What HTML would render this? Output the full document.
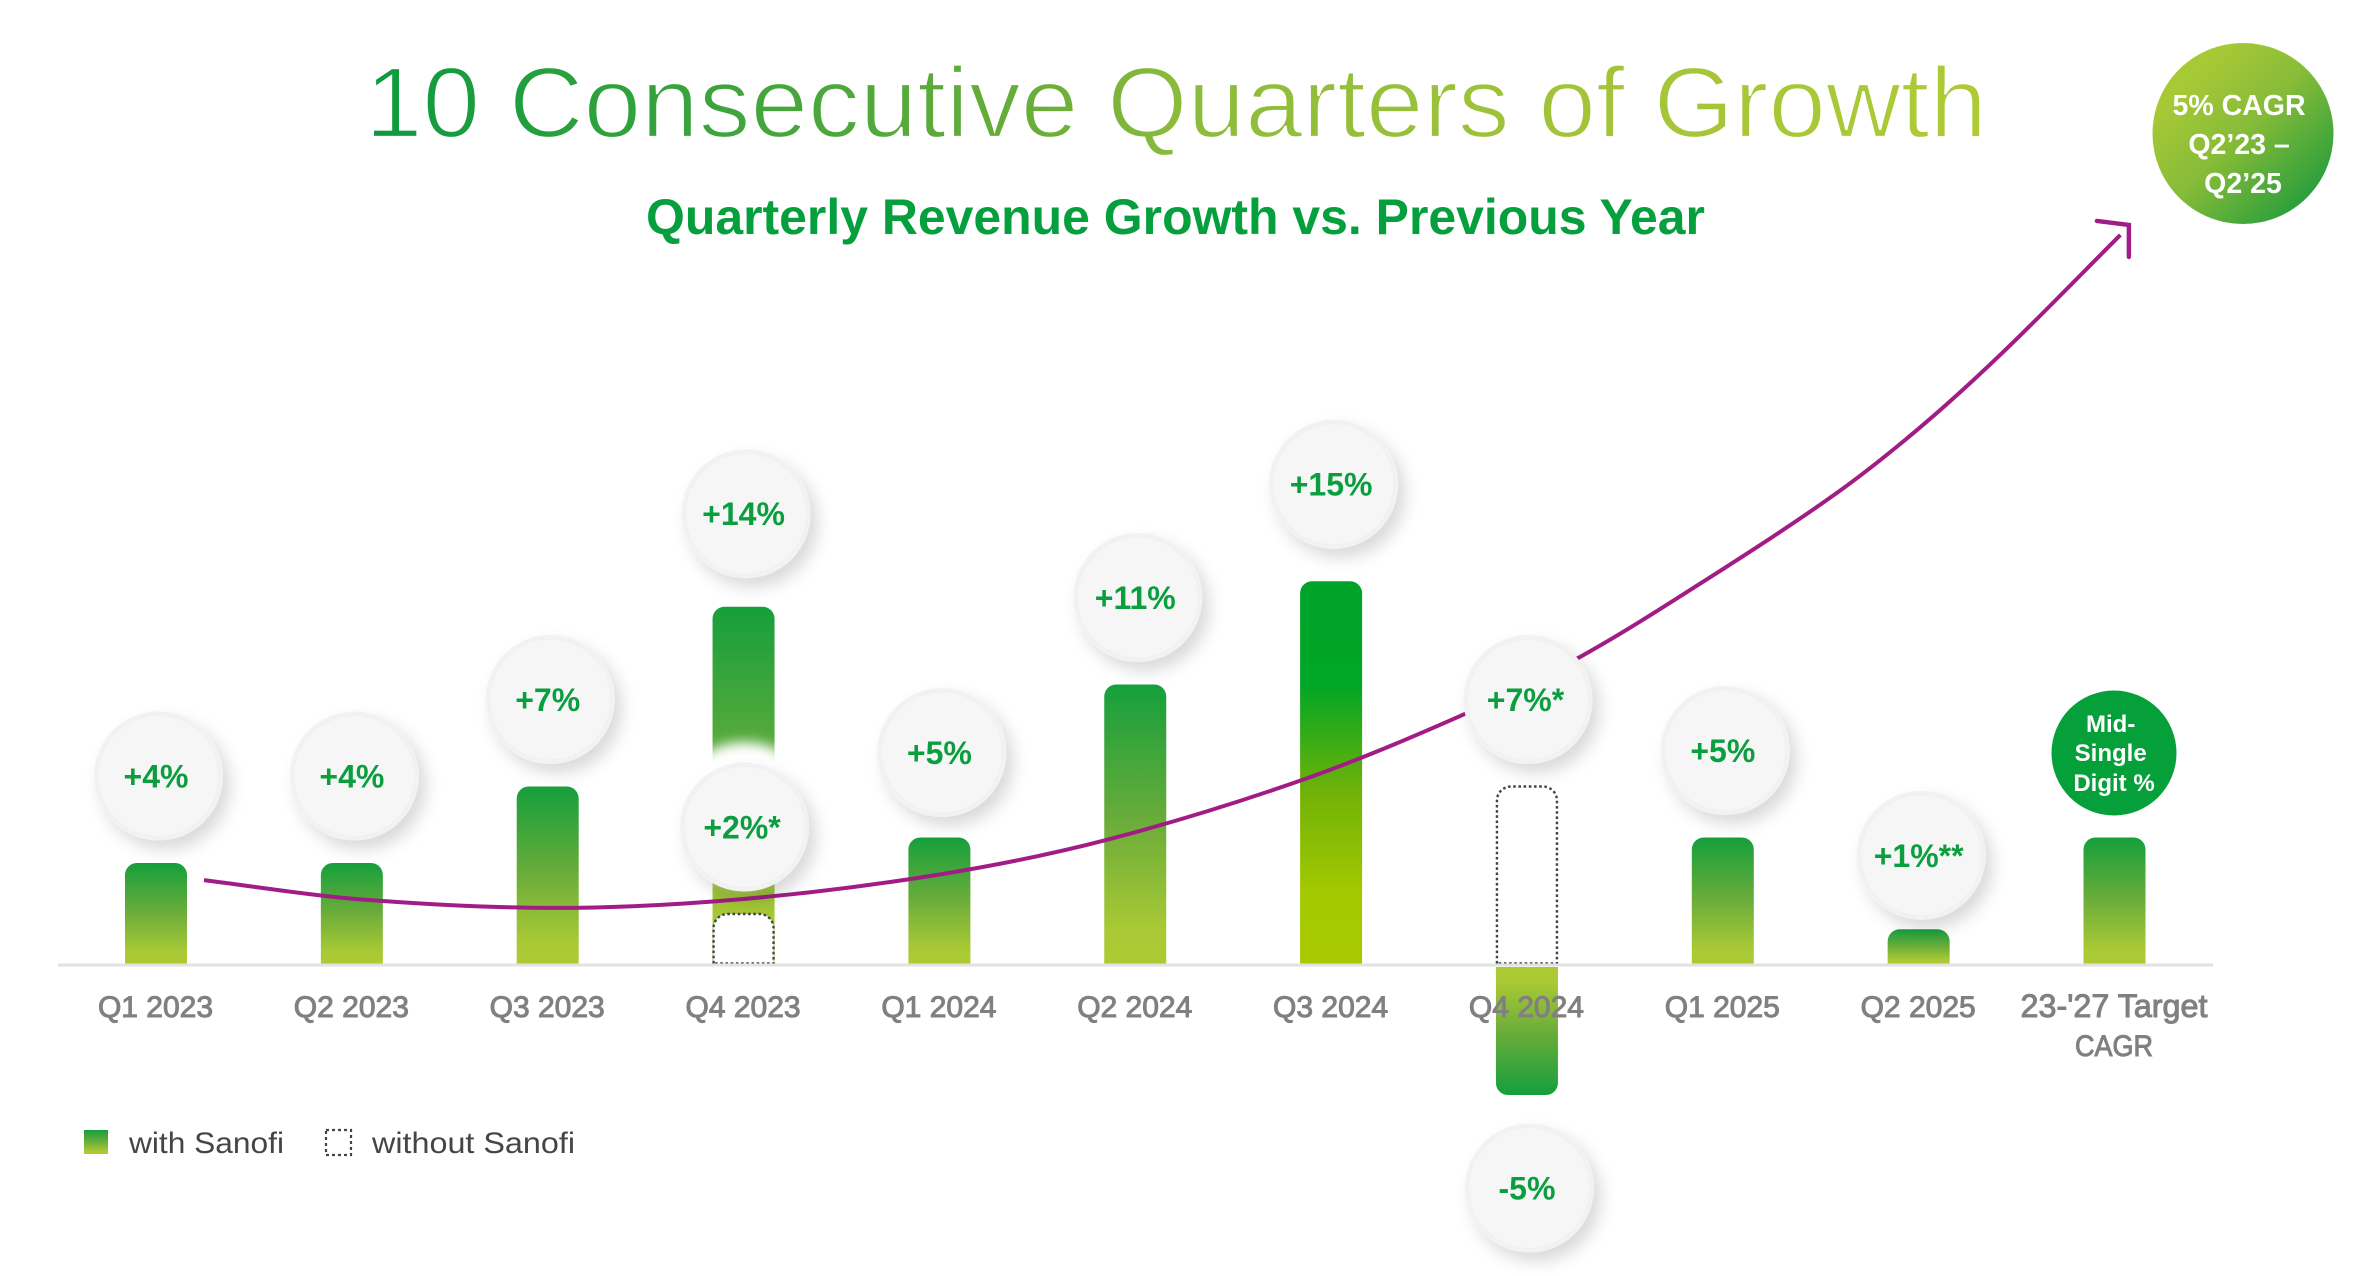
<!DOCTYPE html>
<html lang="en">
<head>
<meta charset="utf-8">
<title>10 Consecutive Quarters of Growth</title>
<style>
html,body{margin:0;padding:0;background:#fff;}
svg{display:block;font-family:"Liberation Sans",sans-serif;}
</style>
</head>
<body>
<svg id="chart" xmlns="http://www.w3.org/2000/svg" width="2356" height="1276" viewBox="0 0 2356 1276">
  <defs>
    <linearGradient id="title-gradient" gradientUnits="userSpaceOnUse" x1="365" y1="0" x2="1987" y2="0">
      <stop offset="0" stop-color="#0b9a3e"/>
      <stop offset="0.42" stop-color="#6bae3a"/>
      <stop offset="0.5" stop-color="#8bbb3b"/>
      <stop offset="0.75" stop-color="#a2c439"/>
      <stop offset="1" stop-color="#aecb34"/>
    </linearGradient>
    <linearGradient id="bar-up" x1="0" y1="0" x2="0" y2="1">
      <stop offset="0" stop-color="#159f3c"/>
      <stop offset="0.5" stop-color="#6cad3a"/>
      <stop offset="0.88" stop-color="#a9c935"/>
      <stop offset="1" stop-color="#acca34"/>
    </linearGradient>
    <linearGradient id="bar-down" x1="0" y1="1" x2="0" y2="0">
      <stop offset="0" stop-color="#159f3c"/>
      <stop offset="0.5" stop-color="#6cad3a"/>
      <stop offset="0.88" stop-color="#a9c935"/>
      <stop offset="1" stop-color="#acca34"/>
    </linearGradient>
    <linearGradient id="bar-vivid" x1="0" y1="0" x2="0" y2="1">
      <stop offset="0" stop-color="#00a32a"/>
      <stop offset="0.27" stop-color="#00a625"/>
      <stop offset="0.55" stop-color="#70b208"/>
      <stop offset="0.82" stop-color="#a4c900"/>
      <stop offset="1" stop-color="#a8c900"/>
    </linearGradient>
    <linearGradient id="cagr-gradient" x1="0.12" y1="0.12" x2="0.88" y2="0.88">
      <stop offset="0.1" stop-color="#a8c936"/>
      <stop offset="0.5" stop-color="#86bb38"/>
      <stop offset="1" stop-color="#259d3c"/>
    </linearGradient>
    <filter id="bubble-shadow" x="-30%" y="-30%" width="170%" height="170%">
      <feDropShadow dx="7" dy="9" stdDeviation="8" flood-color="#000" flood-opacity="0.15"/>
    </filter>
    <filter id="glow-blur" x="-30%" y="-30%" width="160%" height="160%">
      <feGaussianBlur stdDeviation="6"/>
    </filter>
  </defs>

  <text x="365" y="137" font-size="100" fill="url(#title-gradient)" stroke="#fff" stroke-width="2.2" textLength="1622" lengthAdjust="spacingAndGlyphs">10 Consecutive Quarters of Growth</text>
  <text x="646" y="234" font-size="50" font-weight="700" fill="#05a03d" textLength="1059" lengthAdjust="spacingAndGlyphs">Quarterly Revenue Growth vs. Previous Year</text>

  <g id="bars"></g>
  <line x1="58" y1="965" x2="2213" y2="965" stroke="#e2e2e2" stroke-width="3"/>
  <g id="trend"></g>
  <g id="cat-labels"></g>
  <g id="bubbles"></g>

  <g>
    <circle cx="2114" cy="753" r="62.5" fill="#06a03a"/>
    <text text-anchor="middle" font-size="24" font-weight="700" fill="#fff" x="2114">
      <tspan x="2114" y="732">Mid-</tspan>
      <tspan x="2114" y="761">Single</tspan>
      <tspan x="2114" y="791">Digit %</tspan>
    </text>
  </g>

  <g>
    <circle cx="2243" cy="133.5" r="90.5" fill="url(#cagr-gradient)"/>
    <text text-anchor="middle" font-size="28.5" font-weight="700" fill="#fff">
      <tspan x="2243" y="115">5% CAGR</tspan>
      <tspan x="2243" y="154">Q2’23 –</tspan>
      <tspan x="2243" y="193">Q2’25</tspan>
    </text>
  </g>

  <g>
    <g>
      <rect x="84" y="1130" width="24" height="24" fill="url(#bar-up)"/>
      <text x="129" y="1153" font-size="30" fill="#454545" textLength="155" lengthAdjust="spacingAndGlyphs">with Sanofi</text>
    </g>
    <g>
      <rect x="326" y="1130" width="25" height="25" fill="#fff" stroke="#444" stroke-width="2.2" stroke-dasharray="3 3"/>
      <text x="372" y="1153" font-size="30" fill="#454545" textLength="203" lengthAdjust="spacingAndGlyphs">without Sanofi</text>
    </g>
  </g>
</svg>

<script>
// ---- chart data (growth vs. previous year, %) ----
const categories = ["Q1 2023","Q2 2023","Q3 2023","Q4 2023","Q1 2024","Q2 2024","Q3 2024","Q4 2024","Q1 2025","Q2 2025","23-'27 Target|CAGR"];
const withSanofi = [4, 4, 7, 14.05, 5, 11, 15.05, -5.1, 5, 1.4, 5];
const withoutSanofi = [null, null, null, 2, null, null, null, 7, null, null, null];
const withLabels = ["+4%","+4%","+7%","+14%","+5%","+11%","+15%","-5%","+5%","+1%**",null];
const withoutLabels = [null,null,null,"+2%*",null,null,null,"+7%*",null,null,null];
// Trend arrow: quarter index and height in axis units
const trendQuarter = [0.245,1.02,2.04,3,4,4.85,5.85,6.67,7.28,7.93,8.58,9.01,9.44,10.03];
const trendValue = [3.33,2.59,2.24,2.59,3.55,4.9,7.25,9.8,12.12,15.18,18.5,21.1,24.1,28.63];

// ---- axis functions ----
function xAxis(i){ return 156 + i * 195.85; }
function yAxis(v){ return 965 - v * 25.5; }

const NS = "http://www.w3.org/2000/svg";
function make(tag, attrs, parent){
  const el = document.createElementNS(NS, tag);
  for (const k in attrs) el.setAttribute(k, attrs[k]);
  parent.appendChild(el);
  return el;
}

function barPath(cx, yBase, yEnd, w, r){
  const l = cx - w/2, rt = cx + w/2, s = yEnd < yBase ? 1 : -1;
  const sweep = s > 0 ? 1 : 0;
  return "M"+l+","+yBase+"L"+l+","+(yEnd+s*r)+"A"+r+","+r+" 0 0 "+sweep+" "+(l+r)+","+yEnd+
         "L"+(rt-r)+","+yEnd+"A"+r+","+r+" 0 0 "+sweep+" "+rt+","+(yEnd+s*r)+"L"+rt+","+yBase+"Z";
}

function drawBars(){
  const g = document.getElementById("bars");
  categories.forEach(function(cat, i){
    const v = withSanofi[i];
    const fill = v < 0 ? "url(#bar-down)" : (v >= 15 ? "url(#bar-vivid)" : "url(#bar-up)");
    const bar = make("path", {d: barPath(xAxis(i), v < 0 ? 967 : 964, yAxis(v), 62, 12), fill: fill}, g);
    
    
    const u = withoutSanofi[i];
    if (u !== null){
      const box = make("path", {d: barPath(xAxis(i), 963.5, yAxis(u), 60, 14), fill: "#fff", stroke: "#444", "stroke-width": 2.4, "stroke-dasharray": "2.6 2.6"}, g);
      
      
    }
  });
}

function drawTrend(){
  const g = document.getElementById("trend");
  const pts = trendQuarter.map(function(q, i){ return [xAxis(q), yAxis(trendValue[i])]; });
  const n = pts.length;
  // Hermite spline parameterised on x, so uneven spacing does not produce kinks
  const slope = pts.map(function(p, i){
    const a = pts[Math.max(i-1,0)], b = pts[Math.min(i+1,n-1)];
    return (b[1]-a[1])/(b[0]-a[0]);
  });
  let d = "M" + pts[0][0] + "," + pts[0][1];
  for (let i = 0; i < n - 1; i++){
    const h = (pts[i+1][0]-pts[i][0])/3;
    d += "C" + (pts[i][0]+h) + "," + (pts[i][1]+slope[i]*h) + " " +
               (pts[i+1][0]-h) + "," + (pts[i+1][1]-slope[i+1]*h) + " " + pts[i+1][0] + "," + pts[i+1][1];
  }
  const line = make("path", {d: d, fill: "none", stroke: "#a11c84", "stroke-width": 4}, g);
  
  
  const e = pts[n-1];
  const head = "M"+(e[0]-23.5)+","+(e[1]-14)+"L"+(e[0]+8.5)+","+(e[1]-10)+"L"+(e[0]+8.5)+","+(e[1]+22);
  const arrow = make("path", {d: head, fill: "none", stroke: "#a11c84", "stroke-width": 4.4, "stroke-linecap": "round"}, g);
  
  
}

function drawCategoryLabels(){
  const g = document.getElementById("cat-labels");
  categories.forEach(function(cat, i){
    cat.split("|").forEach(function(part, j){
      const size = part.length > 10 ? 32.3 : 30;
      const t = make("text", {x: xAxis(i) - 0.5, y: 1017 + j*39, "text-anchor": "middle", "font-size": size, fill: "#808080", stroke: "#808080", "stroke-width": 1}, g);
      t.textContent = part;
      if (j === 1){
        t.setAttribute("textLength", 78);
        t.setAttribute("lengthAdjust", "spacingAndGlyphs");
      }
      
      
    });
  });
}

function bubble(g, cx, cy, label, name){
  const grp = make("g", {}, g);
  
  
  const outer = make("circle", {cx: cx, cy: cy, r: 64.5, fill: "#f2f2f2", filter: "url(#bubble-shadow)"}, grp);
  
  
  const inner = make("circle", {cx: cx, cy: cy, r: 60.5, fill: "#f6f6f6", stroke: "#f0f0f0", "stroke-width": 1}, grp);
  
  
  const t = make("text", {x: cx - 2.5, y: cy + 11.5, "text-anchor": "middle", "font-size": 32, "font-weight": 700, fill: "#0a9e3e"}, grp);
  t.textContent = label;
  
  
}

function drawBubbles(){
  const g = document.getElementById("bubbles");
  const lift = 87;                          // gap between a bar end and its bubble centre
  const dyTweak = {3:-6, 4:2, 6:-10, 9:13}; // small hand placements per quarter
  withLabels.forEach(function(lab, i){
    if (lab === null) return;
    const v = withSanofi[i];
    const cx = xAxis(i) + 2.5;
    const cy = v < 0 ? yAxis(v) + 93 : yAxis(v) - lift + (dyTweak[i] || 0);
    bubble(g, cx, cy, lab, 'value-bubble');
  });
  withoutLabels.forEach(function(lab, i){
    if (lab === null) return;
    const cx = xAxis(i) + 1;
    const cy = yAxis(withoutSanofi[i]) - lift;
    if (withSanofi[i] > withoutSanofi[i]){
      const glow = make("circle", {cx: cx, cy: cy - 13, r: 72, fill: "#fff", filter: "url(#glow-blur)"}, g);
      
      
    }
    bubble(g, cx, cy, lab, 'value-bubble-without-sanofi');
  });
}

drawBars();
drawTrend();
drawCategoryLabels();
drawBubbles();
</script>
</body>
</html>
